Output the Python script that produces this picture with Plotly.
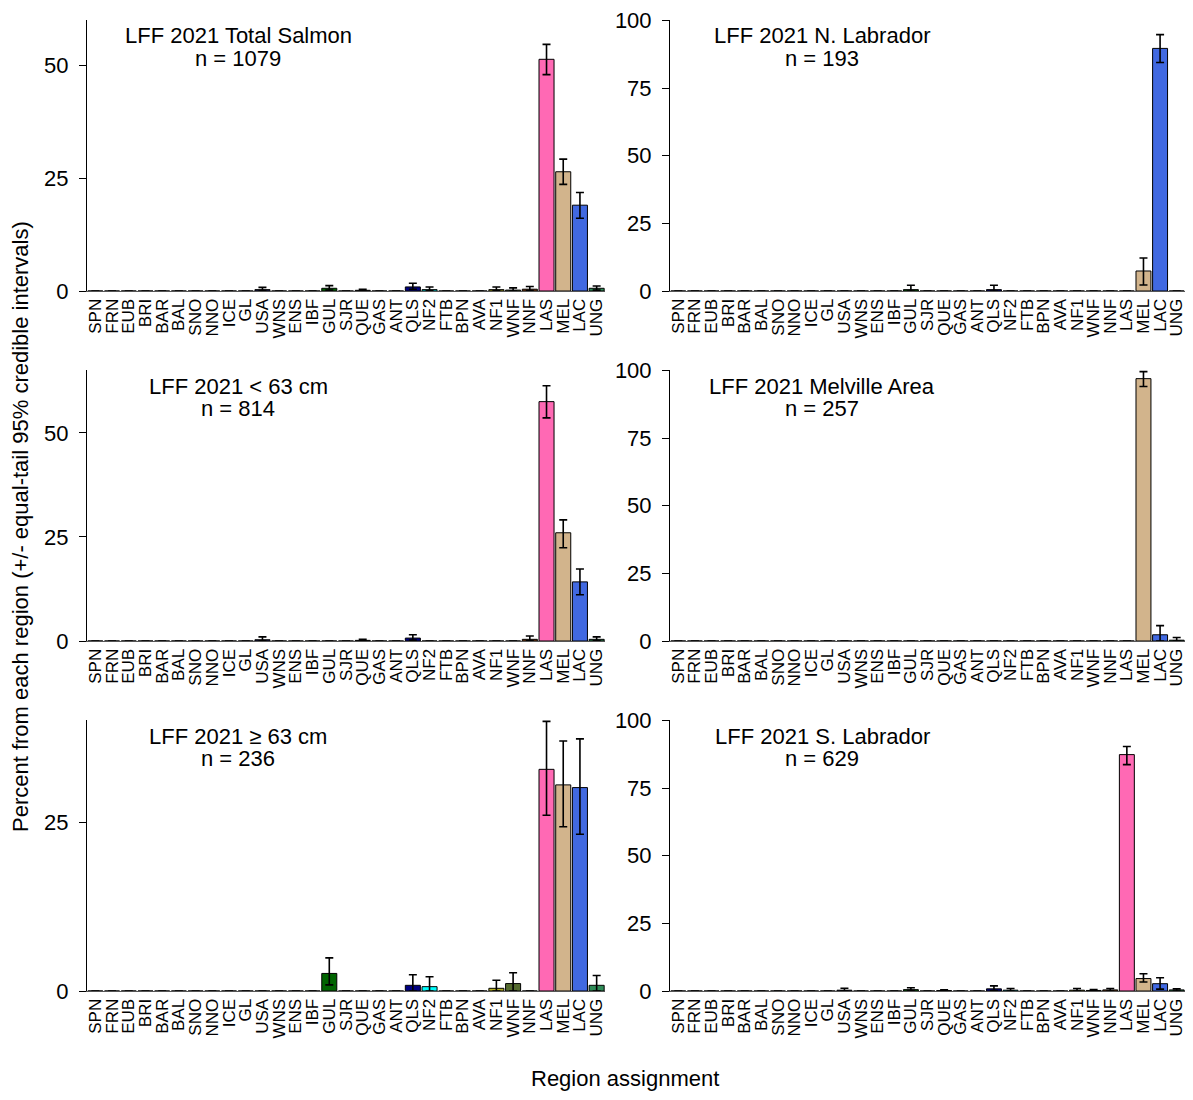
import plotly.graph_objects as go

regions = ["SPN", "FRN", "EUB", "BRI", "BAR", "BAL", "SNO", "NNO", "ICE", "GL",
           "USA", "WNS", "ENS", "IBF", "GUL", "SJR", "QUE", "GAS", "ANT", "QLS",
           "NF2", "FTB", "BPN", "AVA", "NF1", "WNF", "NNF", "LAS", "MEL", "LAC", "UNG"]

region_colors = ["#8B0000", "#FF0000", "#FF8C00", "#FFA07A", "#CD5C5C", "#DAA520", "#9370DB", "#800080",
                 "#00CED1", "#87CEEB", "#1C1C5C", "#4682B4", "#708090", "#A0522D", "#006400", "#B22222",
                 "#2F2F2F", "#6B8E23", "#BC8F8F", "#000080", "#00FFFF", "#DDA0DD", "#F08080", "#20B2AA",
                 "#B5B020", "#556B2F", "#8B4513", "#FF69B4", "#D2B48C", "#4169E1", "#2E8B57"]

# Panel 1: Total Salmon, n = 1079
total_mean = [0, 0, 0, 0, 0, 0, 0, 0, 0, 0, 0.3, 0, 0, 0, 0.6, 0, 0.15, 0, 0, 0.9, 0.3, 0, 0, 0, 0.3, 0.2, 0.4, 51.3, 26.4, 19.0, 0.6]
total_lo = [0, 0, 0, 0, 0, 0, 0, 0, 0, 0, 0.05, 0, 0, 0, 0.2, 0, 0.0, 0, 0, 0.4, 0.05, 0, 0, 0, 0.05, 0.0, 0.1, 47.9, 23.6, 16.1, 0.2]
total_hi = [0, 0, 0, 0, 0, 0, 0, 0, 0, 0, 0.8, 0, 0, 0, 1.2, 0, 0.4, 0, 0, 1.7, 0.9, 0, 0, 0, 0.9, 0.7, 1.0, 54.6, 29.2, 21.8, 1.1]

# Panel 2: N. Labrador, n = 193
nlab_mean = [0, 0, 0, 0, 0, 0, 0, 0, 0, 0, 0, 0, 0, 0, 0.5, 0, 0, 0, 0, 0.5, 0, 0, 0, 0, 0, 0, 0, 0, 7.4, 89.7, 0]
nlab_lo = [0, 0, 0, 0, 0, 0, 0, 0, 0, 0, 0, 0, 0, 0, 0.0, 0, 0, 0, 0, 0.0, 0, 0, 0, 0, 0, 0, 0, 0, 2.2, 84.5, 0]
nlab_hi = [0, 0, 0, 0, 0, 0, 0, 0, 0, 0, 0, 0, 0, 0, 2.1, 0, 0, 0, 0, 2.1, 0, 0, 0, 0, 0, 0, 0, 0, 12.2, 94.8, 0]

# Panel 3: < 63 cm, n = 814
small_mean = [0, 0, 0, 0, 0, 0, 0, 0, 0, 0, 0.3, 0, 0, 0, 0, 0, 0.15, 0, 0, 0.7, 0, 0, 0, 0, 0, 0, 0.4, 57.5, 26.0, 14.2, 0.4]
small_lo = [0, 0, 0, 0, 0, 0, 0, 0, 0, 0, 0.05, 0, 0, 0, 0, 0, 0.0, 0, 0, 0.2, 0, 0, 0, 0, 0, 0, 0.05, 53.6, 22.4, 11.1, 0.05]
small_hi = [0, 0, 0, 0, 0, 0, 0, 0, 0, 0, 1.0, 0, 0, 0, 0, 0, 0.4, 0, 0, 1.5, 0, 0, 0, 0, 0, 0, 1.2, 61.3, 29.1, 17.3, 1.0]

# Panel 4: Melville Area, n = 257
mel_mean = [0, 0, 0, 0, 0, 0, 0, 0, 0, 0, 0, 0, 0, 0, 0, 0, 0, 0, 0, 0, 0, 0, 0, 0, 0, 0, 0, 0, 97.0, 2.3, 0.3]
mel_lo = [0, 0, 0, 0, 0, 0, 0, 0, 0, 0, 0, 0, 0, 0, 0, 0, 0, 0, 0, 0, 0, 0, 0, 0, 0, 0, 0, 0, 94.1, 0.0, 0.0]
mel_hi = [0, 0, 0, 0, 0, 0, 0, 0, 0, 0, 0, 0, 0, 0, 0, 0, 0, 0, 0, 0, 0, 0, 0, 0, 0, 0, 0, 0, 99.6, 5.7, 1.3]

# Panel 5: >= 63 cm, n = 236
large_mean = [0, 0, 0, 0, 0, 0, 0, 0, 0, 0, 0, 0, 0, 0, 2.6, 0, 0, 0, 0, 0.84, 0.64, 0, 0, 0, 0.4, 1.1, 0, 32.8, 30.5, 30.1, 0.84]
large_lo = [0, 0, 0, 0, 0, 0, 0, 0, 0, 0, 0, 0, 0, 0, 0.9, 0, 0, 0, 0, 0.0, 0.0, 0, 0, 0, 0.0, 0.0, 0, 26.0, 24.3, 23.2, 0.0]
large_hi = [0, 0, 0, 0, 0, 0, 0, 0, 0, 0, 0, 0, 0, 0, 4.9, 0, 0, 0, 0, 2.4, 2.1, 0, 0, 0, 1.6, 2.7, 0, 39.9, 37.0, 37.3, 2.3]

# Panel 6: S. Labrador, n = 629
slab_mean = [0, 0, 0, 0, 0, 0, 0, 0, 0, 0, 0.3, 0, 0, 0, 0.5, 0, 0.15, 0, 0, 0.8, 0.3, 0, 0, 0, 0.3, 0.2, 0.4, 87.4, 4.6, 2.7, 0.4]
slab_lo = [0, 0, 0, 0, 0, 0, 0, 0, 0, 0, 0.0, 0, 0, 0, 0.1, 0, 0.0, 0, 0, 0.2, 0.0, 0, 0, 0, 0.0, 0.0, 0.0, 83.7, 3.3, 0.7, 0.0]
slab_hi = [0, 0, 0, 0, 0, 0, 0, 0, 0, 0, 1.0, 0, 0, 0, 1.2, 0, 0.4, 0, 0, 1.9, 0.9, 0, 0, 0, 0.9, 0.5, 0.9, 90.4, 6.4, 4.9, 0.8]

panel_titles = ["LFF 2021 Total Salmon", "LFF 2021 N. Labrador", "LFF 2021 < 63 cm",
                "LFF 2021 Melville Area", "LFF 2021 \u2265 63 cm", "LFF 2021 S. Labrador"]
panel_n = ["n = 1079", "n = 193", "n = 814", "n = 257", "n = 236", "n = 629"]
panel_data = [(total_mean, total_lo, total_hi), (nlab_mean, nlab_lo, nlab_hi),
              (small_mean, small_lo, small_hi), (mel_mean, mel_lo, mel_hi),
              (large_mean, large_lo, large_hi), (slab_mean, slab_lo, slab_hi)]
y_max = [60, 100.2, 65.1, 100.2, 40.1, 100.2]
y_ticks = [[0, 25, 50], [0, 25, 50, 75, 100], [0, 25, 50], [0, 25, 50, 75, 100], [0, 25], [0, 25, 50, 75, 100]]

# page is offset by the 8px body margin; figure fills the remaining viewport
OFF = 8
W, H = 1193 - 2 * OFF, 1100 - 2 * OFF
FONT = "Liberation Sans, Arial, Helvetica, sans-serif"
col_x = [(87, 605), (670, 1186)]
row_y = [(20, 291), (370, 641), (720, 991)]
title_cx = [238, 822]


def px(x):
    return min(1.0, max(0.0, (x - OFF) / W))


def py(y):
    return min(1.0, max(0.0, 1 - (y - OFF) / H))


fig = go.Figure()
layout = dict(
    width=W, height=H,
    margin=dict(l=0, r=0, t=0, b=0, autoexpand=False),
    plot_bgcolor="white", paper_bgcolor="white",
    font=dict(family=FONT, size=22, color="black"),
    showlegend=False, bargap=0.1,
)
annotations = []
for k in range(6):
    r, c = divmod(k, 2)
    idx = "" if k == 0 else str(k + 1)
    mean, lo, hi = panel_data[k]
    plus = [None if m == 0 and h == 0 else h - m for m, h in zip(mean, hi)]
    minus = [None if m == 0 and h == 0 else m - l for m, l, h in zip(mean, lo, hi)]
    fig.add_trace(go.Bar(
        x=regions, y=mean, xaxis="x" + idx, yaxis="y" + idx,
        marker=dict(color=region_colors, line=dict(color="black", width=1)),
        error_y=dict(type="data", symmetric=False, array=plus, arrayminus=minus,
                     color="black", thickness=1.6, width=4),
        hoverinfo="x+y",
    ))
    x0, x1 = col_x[c]
    y0, y1 = row_y[r]
    layout["xaxis" + idx] = dict(
        domain=[px(x0), px(x1)], anchor="y" + idx, automargin=False,
        type="category", categoryorder="array", categoryarray=regions,
        range=[-0.5, len(regions) - 0.5], tickmode="linear", tick0=0, dtick=1,
        tickangle=-90, ticks="", showline=True, linecolor="#555555", linewidth=1,
        showgrid=False, zeroline=False, tickfont=dict(size=17, family=FONT),
        ticklabelstandoff=0,
    )
    layout["yaxis" + idx] = dict(
        domain=[py(y1), py(y0)], anchor="x" + idx, automargin=False,
        range=[0, y_max[k]], tickvals=y_ticks[k], ticktext=[str(v) for v in y_ticks[k]],
        ticks="outside", ticklen=7, tickwidth=1, tickcolor="black",
        showline=True, linecolor="black", linewidth=1,
        showgrid=False, zeroline=False, tickfont=dict(size=22, family=FONT),
        ticklabelstandoff=6,
    )
    annotations.append(dict(text=panel_titles[k], x=px(title_cx[c]), y=py(y0 + 16),
                            xref="paper", yref="paper", showarrow=False,
                            xanchor="center", yanchor="middle", font=dict(size=22, family=FONT)))
    annotations.append(dict(text=panel_n[k], x=px(title_cx[c]), y=py(y0 + 38),
                            xref="paper", yref="paper", showarrow=False,
                            xanchor="center", yanchor="middle", font=dict(size=22, family=FONT)))

annotations.append(dict(text="Percent from each region (+/- equal-tail 95% credible intervals)",
                        x=px(20), y=py(527), xref="paper", yref="paper", showarrow=False,
                        textangle=-90, xanchor="center", yanchor="middle",
                        font=dict(size=22, family=FONT)))
annotations.append(dict(text="Region assignment", x=px(625), y=0,
                        xref="paper", yref="paper", showarrow=False,
                        xanchor="center", yanchor="bottom", borderpad=0,
                        font=dict(size=22, family=FONT)))
layout["annotations"] = annotations
fig.update_layout(**layout)
fig.write_html("out.html")
